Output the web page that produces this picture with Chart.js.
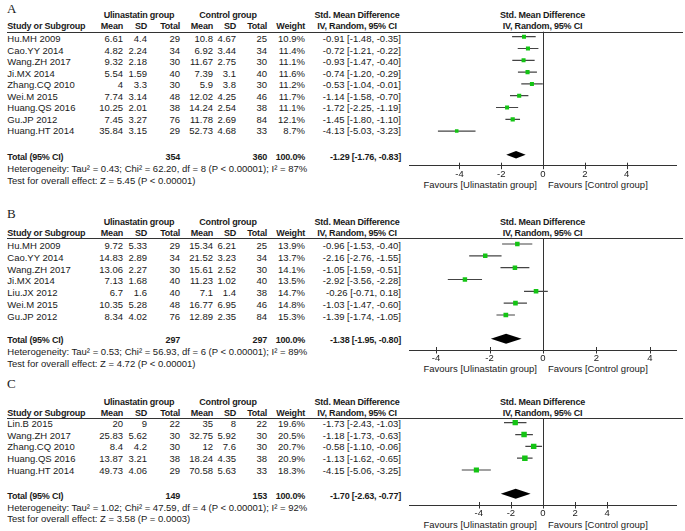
<!DOCTYPE html>
<html><head><meta charset="utf-8">
<script src="https://cdn.jsdelivr.net/npm/chart.js@4.4.1/dist/chart.umd.min.js"></script>
<style>
html,body{margin:0;padding:0;background:#fff;}
#page{position:relative;width:685px;height:531px;overflow:hidden;font-family:"Liberation Sans",Arial,sans-serif;font-size:9.5px;color:#1a1a1a;}
.t{position:absolute;white-space:nowrap;}
.b{font-weight:bold;font-size:9px;letter-spacing:-0.2px;}
.L{font-family:"Liberation Serif","Times New Roman",serif;font-size:13px;}
.hl{position:absolute;height:0;border-top:1px solid #333;}
canvas{position:absolute;}
</style></head><body><div id="page"></div>
<script>
// ---------------- Panel A data ----------------
const studiesA = ["Hu.MH 2009","Cao.YY 2014","Wang.ZH 2017","Ji.MX 2014","Zhang.CQ 2010","Wei.M 2015","Huang.QS 2016","Gu.JP 2012","Huang.HT 2014"];
const ulMeanA = [6.61,4.82,9.32,5.54,4,7.74,10.25,7.45,35.84];
const ulSdA   = [4.4,2.24,2.18,1.59,3.3,3.14,2.01,3.27,3.15];
const ulNA    = [29,34,30,40,30,48,38,76,29];
const ctMeanA = [10.8,6.92,11.67,7.39,5.9,12.02,14.24,11.78,52.73];
const ctSdA   = [4.67,3.44,2.75,3.1,3.8,4.25,2.54,2.69,4.68];
const ctNA    = [25,34,30,40,30,46,38,84,33];
const weightA = [10.9,11.4,11.1,11.6,11.2,11.7,11.1,12.1,8.7];
const smdA    = [-0.91,-0.72,-0.93,-0.74,-0.53,-1.14,-1.72,-1.45,-4.13];
const loA     = [-1.48,-1.21,-1.47,-1.20,-1.04,-1.58,-2.25,-1.80,-5.03];
const hiA     = [-0.35,-0.22,-0.40,-0.29,-0.01,-0.70,-1.19,-1.10,-3.23];
const totalNA = [354,360];
const totalSmdA = [-1.29,-1.76,-0.83];
const hetA  = ["0.43","62.20","8","< 0.00001","87"];
const testA = ["5.45","< 0.00001"];
const ticksA = [-4,-2,0,2,4];

// ---------------- Panel B data ----------------
const studiesB = ["Hu.MH 2009","Cao.YY 2014","Wang.ZH 2017","Ji.MX 2014","Liu.JX 2012","Wei.M 2015","Gu.JP 2012"];
const ulMeanB = [9.72,14.83,13.06,7.13,6.7,10.35,8.34];
const ulSdB   = [5.33,2.89,2.27,1.68,1.6,5.28,4.02];
const ulNB    = [29,34,30,40,40,48,76];
const ctMeanB = [15.34,21.52,15.61,11.23,7.1,16.77,12.89];
const ctSdB   = [6.21,3.23,2.52,1.02,1.4,6.95,2.35];
const ctNB    = [25,34,30,40,38,46,84];
const weightB = [13.9,13.7,14.1,13.5,14.7,14.8,15.3];
const smdB    = [-0.96,-2.16,-1.05,-2.92,-0.26,-1.03,-1.39];
const loB     = [-1.53,-2.76,-1.59,-3.56,-0.71,-1.47,-1.74];
const hiB     = [-0.40,-1.55,-0.51,-2.28,0.18,-0.60,-1.05];
const totalNB = [297,297];
const totalSmdB = [-1.38,-1.95,-0.80];
const hetB  = ["0.53","56.93","6","< 0.00001","89"];
const testB = ["4.72","< 0.00001"];
const ticksB = [-4,-2,0,2,4];

// ---------------- Panel C data ----------------
const studiesC = ["Lin.B 2015","Wang.ZH 2017","Zhang.CQ 2010","Huang.QS 2016","Huang.HT 2014"];
const ulMeanC = [20,25.83,8.4,13.87,49.73];
const ulSdC   = [9,5.62,4.2,3.21,4.06];
const ulNC    = [22,30,30,38,29];
const ctMeanC = [35,32.75,12,18.24,70.58];
const ctSdC   = [8,5.92,7.6,4.35,5.63];
const ctNC    = [22,30,30,38,33];
const weightC = [19.6,20.5,20.7,20.9,18.3];
const smdC    = [-1.73,-1.18,-0.58,-1.13,-4.15];
const loC     = [-2.43,-1.73,-1.10,-1.62,-5.06];
const hiC     = [-1.03,-0.63,-0.06,-0.65,-3.25];
const totalNC = [149,153];
const totalSmdC = [-1.70,-2.63,-0.77];
const hetC  = ["1.02","47.59","4","< 0.00001","92"];
const testC = ["3.58","= 0.0003"];
const ticksC = [-4,-2,0,2,4];

// ---------------- layout (positions only) ----------------
const layoutA = {letter:"A", letterY:8, grpY:15, hdrY:26, lineY:31.7, rowY0:39.3, rowPitch:11.46, totalY:156.7, hetY:169, testY:180.7,
  plotRow0:36.7, plotPitch:11.8, axisY:165.7, xMax:6.4, favY:185, dh:3.8};
const layoutB = {letter:"B", letterY:213, grpY:222, hdrY:233.3, lineY:238.3, rowY0:246, rowPitch:11.78, totalY:339.7, hetY:352, testY:363.5,
  plotRow0:244, plotPitch:11.83, axisY:350, xMax:5, favY:369.3, dh:5};
const layoutC = {letter:"C", letterY:383, grpY:401.7, hdrY:413.3, lineY:418.3, rowY0:424, rowPitch:11.67, totalY:496, hetY:508.3, testY:519.3,
  plotRow0:422.7, plotPitch:11.83, axisY:505, xMax:8.33, favY:525, dh:5};

const COL = {mean1:123, sd1:147, tot1:180, mean2:213, sd2:236, tot2:267, wt:305, ci:401, grp1:139, grp2:228, smdHdr:357, plotL:409.3, plotR:676.7};
const page = document.getElementById('page');
const FS = 9.5;
Chart.defaults.font.family = '"Liberation Sans", Arial, sans-serif';
Chart.defaults.font.size = FS;
Chart.defaults.color = '#1a1a1a';

function txt(s, x, y, align, cls) {
  const e = document.createElement('div');
  e.className = 't ' + (cls || '');
  e.textContent = s;
  const lh = (cls && cls.indexOf('L') >= 0) ? 13 : 12;
  e.style.lineHeight = lh + 'px'; e.style.height = lh + 'px';
  e.style.top = (y - lh / 2) + 'px';
  if (align === 'right') e.style.right = (685 - x) + 'px';
  else if (align === 'center') { e.style.left = x + 'px'; e.style.transform = 'translateX(-50%)'; }
  else e.style.left = x + 'px';
  page.appendChild(e);
  return e;
}
function hline(x1, x2, y) {
  const e = document.createElement('div'); e.className = 'hl';
  e.style.left = x1 + 'px'; e.style.width = (x2 - x1) + 'px'; e.style.top = (Math.round(y) - 0.5) + 'px';
  page.appendChild(e);
}
const f2 = v => v.toFixed(2);
const ciStr = (e, l, h) => f2(e) + " [" + f2(l) + ", " + f2(h) + "]";

const forestPlugin = {
  id: 'forest',
  beforeDatasetsDraw(chart, args, o) {
    const {ctx, chartArea, scales: {x}} = chart;
    const x0 = Math.round(x.getPixelForValue(0)) + 0.5;
    ctx.save();
    ctx.strokeStyle = '#333'; ctx.lineWidth = 1;
    ctx.beginPath();
    ctx.moveTo(x0, chartArea.top); ctx.lineTo(x0, chartArea.bottom);
    x.ticks.forEach(t => {
      const px = Math.round(x.getPixelForValue(t.value)) + 0.5;
      ctx.moveTo(px, chartArea.bottom - 3); ctx.lineTo(px, chartArea.bottom + 3.5);
    });
    ctx.stroke();
    ctx.restore();
  },
  afterDatasetsDraw(chart, args, o) {
    const {ctx, scales: {x, y}} = chart;
    const yc = y.getPixelForValue(o.row);
    ctx.save();
    ctx.fillStyle = '#000';
    ctx.beginPath();
    ctx.moveTo(x.getPixelForValue(o.lo), yc);
    ctx.lineTo(x.getPixelForValue(o.est), yc - o.h);
    ctx.lineTo(x.getPixelForValue(o.hi), yc);
    ctx.lineTo(x.getPixelForValue(o.est), yc + o.h);
    ctx.closePath(); ctx.fill();
    ctx.restore();
  }
};

function panel(d, L) {
  txt(L.letter, 7, L.letterY, 'left', 'L');
  txt("Ulinastatin group", COL.grp1, L.grpY, 'center', 'b');
  txt("Control group", COL.grp2, L.grpY, 'center', 'b');
  txt("Std. Mean Difference", COL.smdHdr, L.grpY, 'center', 'b');
  txt("Std. Mean Difference", 542.5, L.grpY, 'center', 'b');
  txt("Study or Subgroup", 7.3, L.hdrY, 'left', 'b');
  txt("Mean", COL.mean1, L.hdrY, 'right', 'b');
  txt("SD", COL.sd1, L.hdrY, 'right', 'b');
  txt("Total", COL.tot1, L.hdrY, 'right', 'b');
  txt("Mean", COL.mean2, L.hdrY, 'right', 'b');
  txt("SD", COL.sd2, L.hdrY, 'right', 'b');
  txt("Total", COL.tot2, L.hdrY, 'right', 'b');
  txt("Weight", COL.wt, L.hdrY, 'right', 'b');
  txt("IV, Random, 95% CI", COL.smdHdr, L.hdrY, 'center', 'b');
  txt("IV, Random, 95% CI", 542.5, L.hdrY, 'center', 'b');
  hline(7, 683, L.lineY);
  d.studies.forEach((s, i) => {
    const y = L.rowY0 + i * L.rowPitch;
    txt(s, 7.3, y, 'left');
    txt(String(d.ulMean[i]), COL.mean1, y, 'right');
    txt(String(d.ulSd[i]), COL.sd1, y, 'right');
    txt(String(d.ulN[i]), COL.tot1, y, 'right');
    txt(String(d.ctMean[i]), COL.mean2, y, 'right');
    txt(String(d.ctSd[i]), COL.sd2, y, 'right');
    txt(String(d.ctN[i]), COL.tot2, y, 'right');
    txt(d.weight[i].toFixed(1) + "%", COL.wt, y, 'right');
    txt(ciStr(d.smd[i], d.lo[i], d.hi[i]), COL.ci, y, 'right');
  });
  txt("Total (95% CI)", 7.3, L.totalY, 'left', 'b');
  txt(String(d.totalN[0]), COL.tot1, L.totalY, 'right', 'b');
  txt(String(d.totalN[1]), COL.tot2, L.totalY, 'right', 'b');
  txt("100.0%", COL.wt, L.totalY, 'right', 'b');
  txt(ciStr(d.total[0], d.total[1], d.total[2]), COL.ci, L.totalY, 'right', 'b');
  txt("Heterogeneity: Tau\u00B2 = " + d.het[0] + "; Chi\u00B2 = " + d.het[1] + ", df = " + d.het[2] + " (P " + d.het[3] + "); I\u00B2 = " + d.het[4] + "%", 7.3, L.hetY, 'left');
  txt("Test for overall effect: Z = " + d.test[0] + " (P " + d.test[1] + ")", 7.3, L.testY, 'left');
  txt("Favours [Ulinastatin group]", 537, L.favY, 'right');
  txt("Favours [Control group]", 548, L.favY, 'left');

  const n = d.studies.length;
  const canvas = document.createElement('canvas');
  const left = 400, width = 285;
  const top = Math.floor(L.lineY) - 4;
  const axisH = FS * 1.2 + 2 * 3;
  const height = Math.ceil(L.axisY - top + axisH + 2);
  canvas.width = width; canvas.height = height;
  canvas.style.left = left + 'px'; canvas.style.top = top + 'px';
  canvas.style.width = width + 'px'; canvas.style.height = height + 'px';
  page.appendChild(canvas);
  const padTop = L.lineY - top;
  const padBottom = height - (L.axisY - top) - axisH;
  const ticks = d.ticks;
  const datasets = [{
    type: 'scatter',
    data: d.smd.map((v, i) => ({x: v, y: i})),
    pointStyle: 'rect',
    pointRadius: c => Math.sqrt(d.weight[c.dataIndex]) * 0.85,
    backgroundColor: '#14c414', borderWidth: 0, order: 0
  }];
  d.lo.forEach((v, i) => datasets.push({
    type: 'line', data: [{x: d.lo[i], y: i}, {x: d.hi[i], y: i}],
    borderColor: '#444', borderWidth: 1.2, pointRadius: 0, fill: false, order: 1
  }));
  new Chart(canvas, {
    type: 'scatter',
    data: {datasets},
    options: {
      responsive: false, animation: false, events: [], devicePixelRatio: 1,
      layout: {padding: {left: COL.plotL - left, right: left + width - COL.plotR, top: padTop, bottom: padBottom}},
      scales: {
        x: {type: 'linear', min: -L.xMax, max: L.xMax,
            afterBuildTicks: s => { s.ticks = ticks.map(v => ({value: v})); },
            ticks: {padding: 3, autoSkip: false, maxRotation: 0, callback: v => String(v), color: '#1a1a1a', font: {size: FS}},
            grid: {display: true, drawOnChartArea: false, drawTicks: false},
            border: {display: true, color: '#333', width: 1}},
        y: {type: 'linear', display: false, reverse: true,
            min: (L.lineY - L.plotRow0) / L.plotPitch, max: (L.axisY - L.plotRow0) / L.plotPitch}
      },
      plugins: {legend: {display: false}, tooltip: {enabled: false},
        forest: {est: d.total[0], lo: d.total[1], hi: d.total[2], row: n + 1, h: L.dh}}
    },
    plugins: [forestPlugin]
  });
}

panel({studies: studiesA, ulMean: ulMeanA, ulSd: ulSdA, ulN: ulNA, ctMean: ctMeanA, ctSd: ctSdA, ctN: ctNA,
  weight: weightA, smd: smdA, lo: loA, hi: hiA, totalN: totalNA, total: totalSmdA, het: hetA, test: testA, ticks: ticksA}, layoutA);
panel({studies: studiesB, ulMean: ulMeanB, ulSd: ulSdB, ulN: ulNB, ctMean: ctMeanB, ctSd: ctSdB, ctN: ctNB,
  weight: weightB, smd: smdB, lo: loB, hi: hiB, totalN: totalNB, total: totalSmdB, het: hetB, test: testB, ticks: ticksB}, layoutB);
panel({studies: studiesC, ulMean: ulMeanC, ulSd: ulSdC, ulN: ulNC, ctMean: ctMeanC, ctSd: ctSdC, ctN: ctNC,
  weight: weightC, smd: smdC, lo: loC, hi: hiC, totalN: totalNC, total: totalSmdC, het: hetC, test: testC, ticks: ticksC}, layoutC);
</script>
</body></html>
